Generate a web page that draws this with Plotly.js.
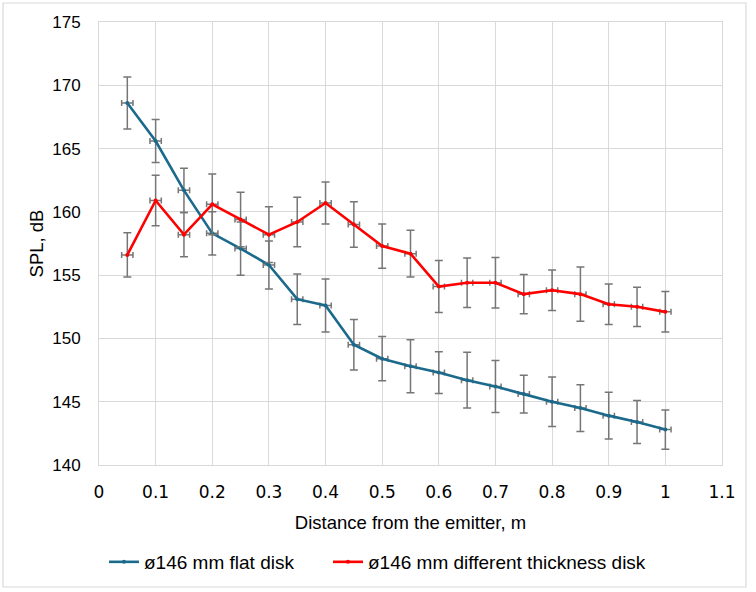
<!DOCTYPE html>
<html>
<head>
<meta charset="utf-8">
<script src="https://cdn.plot.ly/plotly-3.0.1.min.js"></script>
<style>
  html, body { margin: 0; padding: 0; background: #ffffff; }
  #chart { width: 756px; height: 592px; }
</style>
</head>
<body>
<div id="chart"></div>
<script>
// Distance from the emitter, m
const distance = [0.05, 0.1, 0.15, 0.2, 0.25, 0.3, 0.35, 0.4, 0.45, 0.5,
                  0.55, 0.6, 0.65, 0.7, 0.75, 0.8, 0.85, 0.9, 0.95, 1.0];
const distanceError = [0.01, 0.01, 0.01, 0.01, 0.01, 0.01, 0.01, 0.01, 0.01, 0.01,
                       0.01, 0.01, 0.01, 0.01, 0.01, 0.01, 0.01, 0.01, 0.01, 0.01];

// SPL, dB — flat disk
const flatSPL = [168.6, 165.6, 161.7, 158.3, 157.1, 155.8, 153.1, 152.6, 149.5, 148.4,
                 147.8, 147.3, 146.7, 146.2, 145.6, 145.0, 144.5, 143.9, 143.4, 142.8];
const flatErr = [2.05, 1.7, 1.75, 1.7, 2.1, 1.9, 2.0, 2.1, 2.0, 1.75,
                 2.1, 1.65, 2.2, 2.05, 1.5, 1.95, 1.85, 1.85, 1.7, 1.55];

// SPL, dB — different thickness disk
const thickSPL = [156.6, 160.9, 158.2, 160.6, 159.4, 158.2, 159.2, 160.7, 159.0, 157.3,
                  156.7, 154.1, 154.4, 154.4, 153.5, 153.8, 153.5, 152.7, 152.5, 152.1];
const thickErr = [1.75, 2.0, 1.75, 2.4, 2.15, 2.2, 1.95, 1.65, 1.8, 1.75,
                  1.85, 2.05, 1.95, 2.0, 1.55, 1.6, 2.15, 1.6, 1.55, 1.6];

const seriesNames = ['ø146 mm flat disk', 'ø146 mm different thickness disk'];
const seriesColors = ['#1b6a8c', '#ff0000'];

const gridGray = '#d9d9d9';
const barGray = '#767676';
const legendFont = { family: 'Liberation Sans, Arial, sans-serif', size: 19, color: '#000000' };

function makeTrace(y, err, name, color, legendId) {
  return {
    type: 'scatter',
    mode: 'lines+markers',
    x: distance,
    y: y,
    name: name,
    legend: legendId,
    line: { color: color, width: 2.6 },
    marker: { color: color, size: 4 },
    error_y: { type: 'data', array: err, visible: true, color: barGray, thickness: 1.5, width: 4 },
    error_x: { type: 'data', array: distanceError, visible: true, color: barGray, thickness: 1.5, width: 3 }
  };
}

const traces = [
  makeTrace(flatSPL, flatErr, seriesNames[0], seriesColors[0], 'legend'),
  makeTrace(thickSPL, thickErr, seriesNames[1], seriesColors[1], 'legend2')
];

// one legend entry per series, laid out side by side under the axis title
function legendAt(px) {
  return {
    orientation: 'h',
    xref: 'container',
    yref: 'container',
    x: px / 756,
    xanchor: 'left',
    y: 0.0507,
    yanchor: 'middle',
    font: legendFont,
    itemwidth: 30,
    bgcolor: 'rgba(0,0,0,0)'
  };
}

const layout = {
  width: 756,
  height: 592,
  autosize: false,
  paper_bgcolor: '#ffffff',
  plot_bgcolor: '#ffffff',
  margin: { l: 99, r: 34, t: 22, b: 127, autoexpand: false },
  showlegend: true,
  legend: legendAt(104),
  legend2: legendAt(328),
  xaxis: {
    range: [0, 1.1],
    dtick: 0.1,
    tick0: 0,
    tickangle: 0,
    automargin: false,
    showgrid: true,
    gridcolor: gridGray,
    gridwidth: 1,
    zeroline: false,
    showline: true,
    mirror: true,
    linecolor: gridGray,
    linewidth: 1,
    ticks: '',
    ticklabelstandoff: 12,
    tickfont: { family: 'DejaVu Sans, Verdana, sans-serif', size: 17, color: '#000000' },
    title: {
      text: 'Distance from the emitter, m',
      font: { family: 'Liberation Sans, Arial, sans-serif', size: 18.5, color: '#000000' },
      standoff: 14
    }
  },
  yaxis: {
    range: [140, 175],
    dtick: 5,
    automargin: false,
    showgrid: true,
    gridcolor: gridGray,
    gridwidth: 1,
    zeroline: false,
    showline: true,
    mirror: true,
    linecolor: gridGray,
    linewidth: 1,
    ticks: '',
    ticklabelstandoff: 14,
    tickfont: { family: 'Liberation Sans, Arial, sans-serif', size: 17, color: '#000000' },
    title: {
      text: 'SPL, dB',
      font: { family: 'Liberation Sans, Arial, sans-serif', size: 18.5, color: '#000000' },
      standoff: 3
    }
  },
  shapes: [{
    // light outer frame of the chart area
    type: 'rect',
    xref: 'paper', yref: 'paper',
    x0: -0.154, x1: 1.0385,
    y0: -0.2754, y1: 1.0429,
    line: { color: gridGray, width: 1.2 },
    fillcolor: 'rgba(0,0,0,0)',
    layer: 'below'
  }]
};

Plotly.newPlot('chart', traces, layout, { displayModeBar: false, staticPlot: true });
</script>
</body>
</html>
